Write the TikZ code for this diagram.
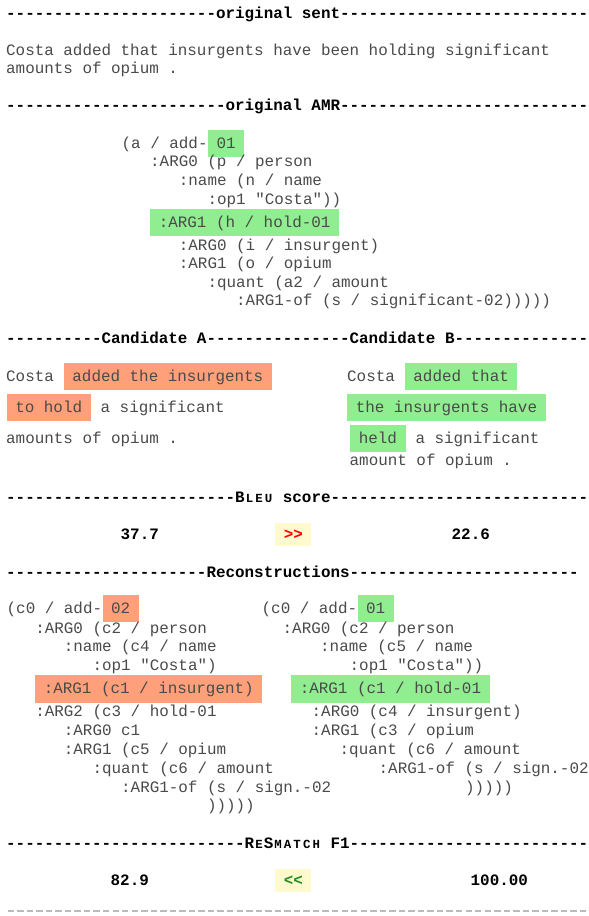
\documentclass[tikz,border=0pt]{standalone}
\usepackage{fontspec}
\setmonofont{Liberation Mono}
\usepackage{xcolor}
\definecolor{bodyGray}{HTML}{4A4A4A}
\definecolor{goodGreen}{HTML}{90EE90}
\definecolor{badOrange}{HTML}{FFA07A}
\definecolor{verdictBg}{HTML}{FFFACD}
\definecolor{winRed}{HTML}{FF0000}
\definecolor{winGreen}{HTML}{228B22}
\definecolor{ruleGray}{HTML}{BBBBBB}
\usepackage{tikz}
\usetikzlibrary{positioning}
\newcommand\amrfont{\ttfamily\fontsize{15.9}{18}\selectfont\frenchspacing}
\newcommand\scl[1]{\makebox[0.6em]{\fontsize{12.4}{12}\selectfont #1}}
\tikzstyle{txt} = [anchor=base west, inner sep=0pt, font=\amrfont, text=bodyGray]
\tikzstyle{header} = [txt, font=\amrfont\bfseries, text=black]
\tikzstyle{hlbox} = [txt, inner xsep=8.6pt, inner ysep=0pt, text height=18.5pt, text depth=9pt]
\tikzstyle{good} = [hlbox, fill=goodGreen]
\tikzstyle{bad} = [hlbox, fill=badOrange]
\tikzstyle{score} = [header]
\tikzstyle{verdict} = [hlbox, fill=verdictBg, font=\amrfont\bfseries, text height=16pt, text depth=7pt]
\tikzstyle{endrule} = [draw=ruleGray, line width=1.3pt, dash pattern=on 6.4pt off 3.14pt]

\begin{document}
\begin{tikzpicture}[x=1pt, y=-1pt]
    \useasboundingbox (0,0) rectangle (589,916);
    % original sentence
    \node [header] (hSent) at (6,18) {----------------------original sent--------------------------};
    \node [txt] (sent1) at (6,55) {Costa added that insurgents have been holding significant};
    \node [txt] (sent2) at (6,73) {amounts of opium .};
    % original AMR
    \node [header] (hAmr) at (6,110) {-----------------------original AMR--------------------------};
    \node [txt] (amrA) at (121.5,148) {(a / add-};
    \node [good] (amrAv) at (amrA.base east) {01};
    \node [txt] (amrB) at (150,166.7) {:ARG0 (p / person};
    \node [txt] (amrC) at (178.7,185.7) {:name (n / name};
    \node [txt] (amrD) at (207.4,204) {:op1 "Costa"))};
    \node [good] (amrE) at (150,227) {:ARG1 (h / hold-01};
    \node [txt] (amrF) at (178.7,250.7) {:ARG0 (i / insurgent)};
    \node [txt] (amrG) at (178.7,268.7) {:ARG1 (o / opium};
    \node [txt] (amrH) at (207.4,287) {:quant (a2 / amount};
    \node [txt] (amrI) at (236,305.5) {:ARG1-of (s / significant-02)))))};
    % candidates
    \node [header] (hCand) at (6,343) {----------Candidate A---------------Candidate B--------------};
    \node [txt] (candA1) at (6,381) {Costa\ \mbox{}};
    \node [bad] (candA2) at (candA1.base east) {added the insurgents};
    \node [bad] (candA3) at (6.5,412) {to hold};
    \node [txt] (candA4) at (candA3.base east) {\ a significant};
    \node [txt] (candA5) at (6,443) {amounts of opium .};
    \node [txt] (candB1) at (347,381) {Costa\ \mbox{}};
    \node [good] (candB2) at (candB1.base east) {added that};
    \node [good] (candB3) at (347,412) {the insurgents have};
    \node [good] (candB4) at (350,443) {held};
    \node [txt] (candB5) at (candB4.base east) {\ a significant};
    \node [txt] (candB6) at (349.5,465) {amount of opium .};
    % bleu
    \node [header] (hBleu) at (6,502) {------------------------B\scl{L}\scl{E}\scl{U} score---------------------------};
    \node [score] (bleuA) at (120.5,539) {37.7};
    \node [verdict, text=winRed] (bleuCmp) at (275,539) {>>};
    \node [score] (bleuB) at (451.5,539) {22.6};
    % reconstructions
    \node [header] (hRec) at (6,577) {---------------------Reconstructions------------------------};
    \node [txt] (recA1) at (6.5,613) {(c0 / add-};
    \node [bad] (recA1v) at (recA1.base east) {02};
    \node [txt] (recA2) at (35.1,633) {:ARG0 (c2 / person};
    \node [txt] (recA3) at (63.7,651) {:name (c4 / name};
    \node [txt] (recA4) at (92.4,670) {:op1 "Costa")};
    \node [bad] (recA5) at (35,693.5) {:ARG1 (c1 / insurgent)};
    \node [txt] (recA6) at (35.1,716.5) {:ARG2 (c3 / hold-01};
    \node [txt] (recA7) at (63.7,735.5) {:ARG0 c1};
    \node [txt] (recA8) at (63.7,754) {:ARG1 (c5 / opium};
    \node [txt] (recA9) at (92.4,773) {:quant (c6 / amount};
    \node [txt] (recA10) at (121,792) {:ARG1-of (s / sign.-02};
    \node [txt] (recA11) at (206.8,810.5) {)))))};
    \node [txt] (recB1) at (261.5,613) {(c0 / add-};
    \node [good] (recB1v) at (recB1.base east) {01};
    \node [txt] (recB2) at (282.5,633) {:ARG0 (c2 / person};
    \node [txt] (recB3) at (320,651) {:name (c5 / name};
    \node [txt] (recB4) at (349.5,670) {:op1 "Costa"))};
    \node [good] (recB5) at (291,693.5) {:ARG1 (c1 / hold-01};
    \node [txt] (recB6) at (311.5,716.5) {:ARG0 (c4 / insurgent)};
    \node [txt] (recB7) at (311.5,735.5) {:ARG1 (c3 / opium};
    \node [txt] (recB8) at (339.5,754) {:quant (c6 / amount};
    \node [txt] (recB9) at (378.5,773) {:ARG1-of (s / sign.-02};
    \node [txt] (recB10) at (465,792) {)))))};
    % resmatch
    \node [header] (hSmatch) at (6,848) {-------------------------R\scl{E}S\scl{M}\scl{A}\scl{T}\scl{C}\scl{H} F1-------------------------};
    \node [score] (smA) at (110.5,885) {82.9};
    \node [verdict, text=winGreen] (smCmp) at (275,885) {<<};
    \node [score] (smB) at (470.5,885) {100.00};
    % closing rule
    \coordinate (ruleL) at (7.6,911);
    \coordinate (ruleR) at (589,911);
    \draw [endrule] (ruleL) -- (ruleR);
\end{tikzpicture}
\end{document}
